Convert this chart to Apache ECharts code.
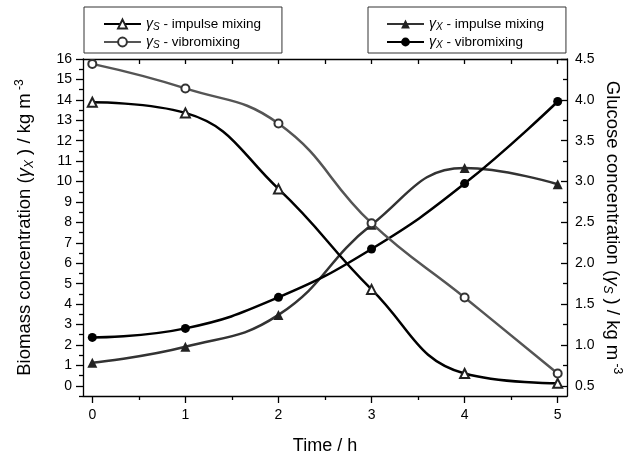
<!DOCTYPE html>
<html><head><meta charset="utf-8">
<script src="https://cdn.jsdelivr.net/npm/echarts@6/dist/echarts.min.js"></script>
<style>html,body{margin:0;padding:0;background:#fff}#c{width:639px;height:455px}</style>
</head><body><div id="c"></div>
<script>
// ---- data ----
const timeH = [0, 1, 2, 3, 4, 5];
const gammaXImpulse = [1.13, 1.91, 3.47, 7.88, 10.66, 9.87];   // biomass, left axis
const gammaXVibro   = [2.37, 2.81, 4.33, 6.70, 9.90, 13.92];   // biomass, left axis
const gammaSImpulse = [3.97, 3.84, 2.91, 1.68, 0.65, 0.53];    // glucose, right axis
const gammaSVibro   = [4.44, 4.14, 3.71, 2.49, 1.58, 0.65];    // glucose, right axis
const seriesNames = ['γS - impulse mixing', 'γS - vibromixing', 'γX - impulse mixing', 'γX - vibromixing'];
const xTickValues = [0, 1, 2, 3, 4, 5];
const xMinorValues = [0.5, 1.5, 2.5, 3.5, 4.5];
const leftTickValues = [0, 1, 2, 3, 4, 5, 6, 7, 8, 9, 10, 11, 12, 13, 14, 15, 16];
const leftMinorValues = [-0.5, 0.5, 1.5, 2.5, 3.5, 4.5, 5.5, 6.5, 7.5, 8.5, 9.5, 10.5, 11.5, 12.5, 13.5, 14.5, 15.5];
const rightTickValues = [0.5, 1.0, 1.5, 2.0, 2.5, 3.0, 3.5, 4.0, 4.5];
const rightMinorValues = [0.75, 1.25, 1.75, 2.25, 2.75, 3.25, 3.75, 4.25];

const FONT = '"Liberation Sans", Arial, sans-serif';
const pairs = (xs, ys) => xs.map((x, i) => [x, ys[i]]);
const axisCol = '#000';

const legendRich = {
  g: { fontFamily: FONT, fontSize: 14, fontStyle: 'italic', color: '#000', lineHeight: 16 },
  sub: { fontFamily: FONT, fontSize: 10, fontStyle: 'italic', color: '#000', lineHeight: 10, verticalAlign: 'bottom' },
  t: { fontFamily: FONT, fontSize: 13.5, color: '#000', lineHeight: 16 }
};
const legendFmt = name => `{g|${name[0]}}{sub|${name[1]}}{t|${name.slice(2)}}`;

const nameRich = {
  t: { fontFamily: FONT, fontSize: 18.5, color: '#000', lineHeight: 22 },
  g: { fontFamily: FONT, fontSize: 18.5, fontStyle: 'italic', color: '#000', lineHeight: 22 },
  sub: { fontFamily: FONT, fontSize: 12, fontStyle: 'italic', color: '#000', lineHeight: 12, verticalAlign: 'bottom' },
  sup: { fontFamily: FONT, fontSize: 12, color: '#000', lineHeight: 12, verticalAlign: 'top' }
};

const xCommon = { type: 'value', min: -0.1, max: 5.1, splitLine: { show: false }, gridIndex: 0 };
const yLeftCommon = { type: 'value', min: -0.5, max: 16, splitLine: { show: false } };
const yRightCommon = { type: 'value', min: 0.375, max: 4.5, splitLine: { show: false } };
const lineW = { color: axisCol, width: 1.3 };

const option = {
  animation: false,
  backgroundColor: '#fff',
  grid: { left: 83, right: 72, top: 59, bottom: 59, containLabel: false, outerBoundsMode: 'none' },
  legend: [
    {
      data: seriesNames.slice(0, 2), orient: 'vertical', left: 84, top: 7,
      padding: [10, 21, 3, 19], itemGap: 3, itemWidth: 37, itemHeight: 11,
      borderColor: '#333', borderWidth: 1, formatter: legendFmt,
      textStyle: { rich: legendRich }
    },
    {
      data: seriesNames.slice(2, 4), orient: 'vertical', left: 368, top: 7,
      padding: [10, 22, 3, 18], itemGap: 3, itemWidth: 37, itemHeight: 11,
      borderColor: '#333', borderWidth: 1, formatter: legendFmt,
      textStyle: { rich: legendRich }
    }
  ],
  xAxis: [
    Object.assign({}, xCommon, {
      position: 'bottom',
      axisLine: { show: true, onZero: false, lineStyle: lineW },
      axisTick: { show: true, customValues: xTickValues, length: 7, lineStyle: lineW },
      axisLabel: { customValues: xTickValues, margin: 12, fontSize: 14, fontFamily: FONT, color: '#000' },
      name: 'Time / h', nameLocation: 'middle', nameGap: 41, nameMoveOverlap: false,
      nameTextStyle: { fontSize: 18, fontFamily: FONT, color: '#000' }
    }),
    Object.assign({}, xCommon, {
      position: 'bottom',
      axisLine: { show: false, onZero: false },
      axisTick: { show: true, customValues: xMinorValues, length: 4, lineStyle: lineW },
      axisLabel: { show: false }
    }),
    Object.assign({}, xCommon, {
      position: 'top',
      axisLine: { show: true, onZero: false, lineStyle: lineW },
      axisTick: { show: true, inside: true, customValues: xTickValues.concat(xMinorValues), length: 5, lineStyle: lineW },
      axisLabel: { show: false }
    })
  ],
  yAxis: [
    Object.assign({}, yLeftCommon, {
      position: 'left',
      axisLine: { show: true, onZero: false, lineStyle: lineW },
      axisTick: { show: true, customValues: leftTickValues, length: 7, lineStyle: lineW },
      axisLabel: { customValues: leftTickValues, margin: 11, fontSize: 14, fontFamily: FONT, color: '#000' },
      name: '{t|Biomass concentration (}{g|γ}{sub|X}{t| ) / kg m}{sup| -3}',
      nameLocation: 'middle', nameGap: 47, nameRotate: 90, nameMoveOverlap: false,
      nameTextStyle: { rich: nameRich }
    }),
    Object.assign({}, yLeftCommon, {
      position: 'left',
      axisLine: { show: false, onZero: false },
      axisTick: { show: true, customValues: leftMinorValues, length: 4, lineStyle: lineW },
      axisLabel: { show: false }
    }),
    Object.assign({}, yRightCommon, {
      position: 'right',
      axisLine: { show: true, onZero: false, lineStyle: lineW },
      axisTick: { show: true, inside: true, customValues: rightTickValues, length: 6, lineStyle: lineW },
      axisLabel: { customValues: rightTickValues, margin: 8, fontSize: 14, fontFamily: FONT, color: '#000',
                   formatter: v => v.toFixed(1) },
      name: '{t|Glucose concentration (}{g|γ}{sub|S}{t| ) / kg m}{sup| -3}',
      nameLocation: 'middle', nameGap: 34, nameRotate: -90, nameMoveOverlap: false,
      nameTextStyle: { rich: nameRich }
    }),
    Object.assign({}, yRightCommon, {
      position: 'right',
      axisLine: { show: false, onZero: false },
      axisTick: { show: true, inside: true, customValues: rightMinorValues, length: 4, lineStyle: lineW },
      axisLabel: { show: false }
    })
  ],
  series: [
    {
      name: seriesNames[0], type: 'line', xAxisIndex: 0, yAxisIndex: 2,
      data: pairs(timeH, gammaSImpulse), smooth: 0.45,
      symbol: 'emptyTriangle', symbolSize: 9,
      lineStyle: { color: '#000', width: 2.5 }, itemStyle: { color: '#222', borderWidth: 1 }, z: 3
    },
    {
      name: seriesNames[1], type: 'line', xAxisIndex: 0, yAxisIndex: 2,
      data: pairs(timeH, gammaSVibro), smooth: 0.45,
      symbol: 'emptyCircle', symbolSize: 8,
      lineStyle: { color: '#555', width: 2.5 }, itemStyle: { color: '#333', borderWidth: 1 }, z: 3
    },
    {
      name: seriesNames[2], type: 'line', xAxisIndex: 0, yAxisIndex: 0,
      data: pairs(timeH, gammaXImpulse), smooth: 0.45,
      symbol: 'triangle', symbolSize: 10,
      lineStyle: { color: '#333', width: 2.5 }, itemStyle: { color: '#222', borderWidth: 0 }, z: 2
    },
    {
      name: seriesNames[3], type: 'line', xAxisIndex: 0, yAxisIndex: 0,
      data: pairs(timeH, gammaXVibro), smooth: 0.45,
      symbol: 'circle', symbolSize: 9,
      lineStyle: { color: '#000', width: 2.5 }, itemStyle: { color: '#000', borderWidth: 0 }, z: 2
    }
  ]
};

const chart = echarts.init(document.getElementById('c'), null, { renderer: 'canvas' });
chart.setOption(option);
</script>
</body></html>
